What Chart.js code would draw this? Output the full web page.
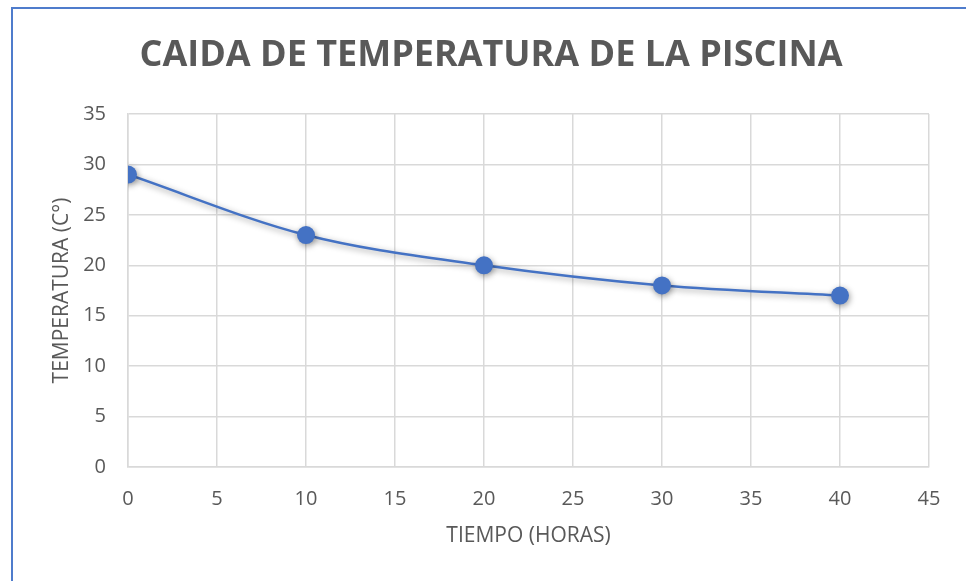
<!DOCTYPE html>
<html>
<head>
<meta charset="utf-8">
<script src="https://cdn.jsdelivr.net/npm/chart.js@4"></script>
<style>
    html, body { margin: 0; padding: 0; background: #fff; }
    #wrap { position: relative; width: 966px; height: 581px; overflow: hidden; }
    #frame {
        position: absolute; left: 11px; top: 7px; width: 980px; height: 600px;
        border-left: 2px solid #4f7ccc; border-top: 2px solid #4f7ccc;
        box-sizing: border-box; pointer-events: none;
    }
    canvas { position: absolute; left: 0; top: 0; }
</style>
</head>
<body>
<div id="wrap">
    <canvas id="tempChart" width="966" height="581"></canvas>
    <div id="frame"></div>
</div>
<script>
const hours = [0, 10, 20, 30, 40];
const temps = [29, 23, 20, 18, 17];
const xTicks = [0, 5, 10, 15, 20, 25, 30, 35, 40, 45];
const yTicks = [0, 5, 10, 15, 20, 25, 30, 35];
const chartTitle = "CAIDA DE TEMPERATURA DE LA PISCINA";

const gray = "#595959";
const blue = "#4472C4";
const fontName = "'Open Sans', 'Liberation Sans', sans-serif";

// soft shadow under the series, like the office style
const shadow = {
    id: "shadow",
    beforeDatasetDraw(chart) {
        const ctx = chart.ctx;
        ctx.save();
        ctx.shadowColor = "rgba(0,0,0,0.4)";
        ctx.shadowBlur = 6;
        ctx.shadowOffsetX = 1;
        ctx.shadowOffsetY = 2;
    },
    afterDatasetDraw(chart) {
        chart.ctx.restore();
    },
};

// title centred on the whole frame, not on the plot
const bigTitle = {
    id: "bigTitle",
    afterDraw(chart) {
        const ctx = chart.ctx;
        ctx.save();
        ctx.font = "bold 36px " + fontName;
        ctx.fillStyle = gray;
        ctx.textAlign = "center";
        ctx.textBaseline = "middle";
        ctx.fillText(chartTitle, 491, 56);
        ctx.restore();
    },
};

new Chart(document.getElementById("tempChart"), {
    type: "scatter",
    data: {
        datasets: [
            {
                label: "Temperatura",
                data: hours.map((h, i) => ({ x: h, y: temps[i] })),
                showLine: true,
                borderColor: blue,
                borderWidth: 2.5,
                backgroundColor: blue,
                pointRadius: 9,
                pointBorderWidth: 0,
                tension: 0.35,
                cubicInterpolationMode: "monotone",
            },
        ],
    },
    options: {
        responsive: false,
        animation: false,
        layout: { padding: { left: 0, right: 37, top: 114, bottom: 0 } },
        plugins: {
            legend: { display: false },
            tooltip: { enabled: false },
            title: { display: false },
        },
        scales: {
            x: {
                type: "linear",
                min: 0,
                max: 45,
                afterBuildTicks(scale) {
                    scale.ticks = xTicks.map((v) => ({ value: v }));
                },
                afterFit(scale) {
                    scale.height = 114;
                },
                grid: { color: "#d9d9d9", lineWidth: 1.5, drawTicks: false },
                border: { color: "#d9d9d9", width: 1.5 },
                ticks: { color: gray, padding: 20, font: { family: fontName, size: 20 }, maxRotation: 0 },
                title: {
                    display: true,
                    text: "TIEMPO (HORAS)",
                    color: gray,
                    font: { family: fontName, size: 21, lineHeight: 1.2 },
                    padding: { top: 0, bottom: 32 },
                },
            },
            y: {
                min: 0,
                max: 35,
                afterBuildTicks(scale) {
                    scale.ticks = yTicks.map((v) => ({ value: v }));
                },
                afterFit(scale) {
                    scale.width = 128;
                },
                grid: { color: "#d9d9d9", lineWidth: 1.5, drawTicks: false },
                border: { color: "#d9d9d9", width: 1.5 },
                ticks: { color: gray, padding: 22, font: { family: fontName, size: 20 } },
                title: {
                    display: true,
                    text: "TEMPERATURA (C°)",
                    color: gray,
                    font: { family: fontName, size: 21, lineHeight: 1.2 },
                    padding: { top: 49 },
                },
            },
        },
    },
    plugins: [shadow, bigTitle],
});
</script>
</body>
</html>
